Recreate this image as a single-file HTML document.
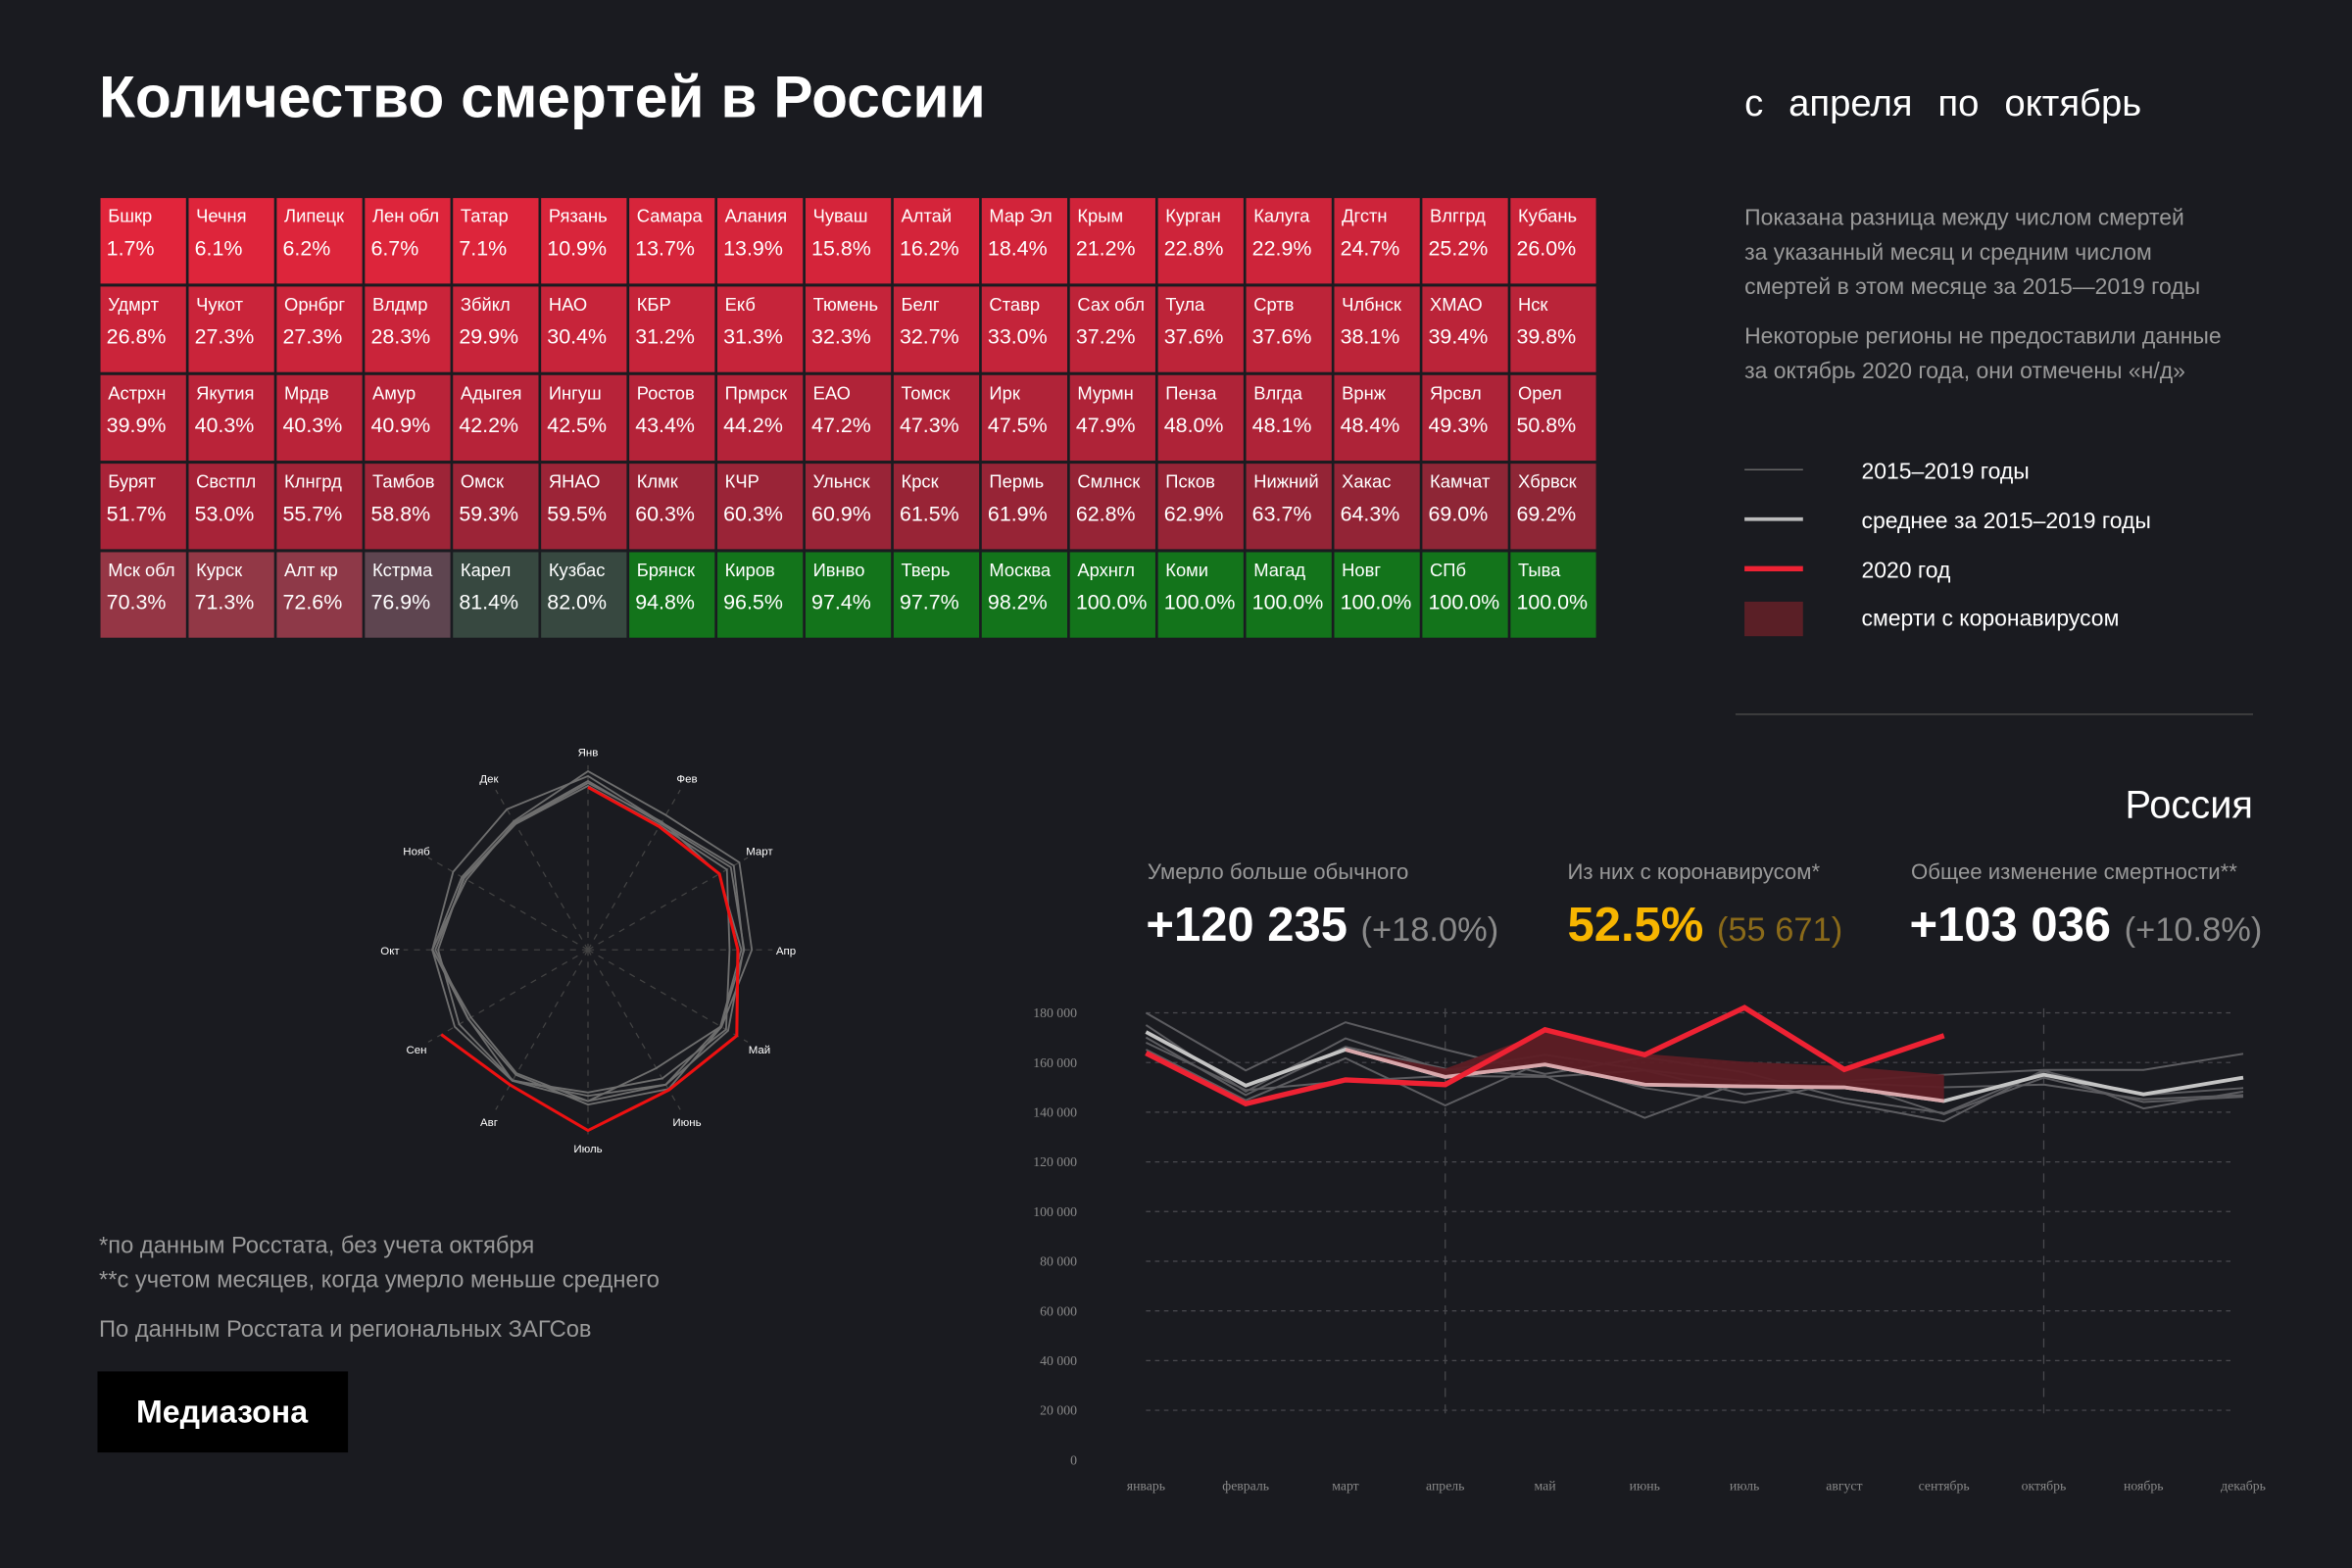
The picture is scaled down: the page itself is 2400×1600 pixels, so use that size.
<!DOCTYPE html>
<html><head><meta charset="utf-8">
<style>
html,body{margin:0;padding:0;background:#1a1b20;}
svg{display:block;}
text{font-family:"Liberation Sans","DejaVu Sans",sans-serif;}
text.serif{font-family:"Liberation Serif","DejaVu Serif",serif;}
</style></head>
<body>
<svg id="root" width="2400" height="1600" viewBox="0 0 1568 1045" preserveAspectRatio="none" xmlns="http://www.w3.org/2000/svg">
<rect x="0" y="0" width="1568" height="1045" fill="#1a1b20"/>
<text x="66" y="78" font-size="39.5" font-weight="bold" fill="#fff">Количество смертей в России</text>
<text x="1163" y="77" font-size="25" fill="#fff" word-spacing="10">с апреля по октябрь</text>
<g fill="#9a9a9a" font-size="15">
<text x="1163" y="150">Показана разница между числом смертей</text>
<text x="1163" y="173">за указанный месяц и средним числом</text>
<text x="1163" y="196">смертей в этом месяце за 2015—2019 годы</text>
<text x="1163" y="229">Некоторые регионы не предоставили данные</text>
<text x="1163" y="252">за октябрь 2020 года, они отмечены «н/д»</text>
</g>
<g>
<line x1="1163" y1="313" x2="1202" y2="313" stroke="#666" stroke-width="1"/>
<text x="1241" y="319" font-size="15" fill="#fff">2015–2019 годы</text>
<line x1="1163" y1="346" x2="1202" y2="346" stroke="#bbb" stroke-width="2.5"/>
<text x="1241" y="352" font-size="15" fill="#fff">среднее за 2015–2019 годы</text>
<line x1="1163" y1="379" x2="1202" y2="379" stroke="#ee2233" stroke-width="3.5"/>
<text x="1241" y="385" font-size="15" fill="#fff">2020 год</text>
<rect x="1163" y="401" width="39" height="23" fill="#5a1f26"/>
<text x="1241" y="417" font-size="15" fill="#fff">смерти с коронавирусом</text>
</g>
<line x1="1157" y1="476" x2="1502" y2="476" stroke="#444" stroke-width="1"/>
<text x="1502" y="545" font-size="26" fill="#fff" text-anchor="end">Россия</text>
<g>
<text x="765" y="586" font-size="14.5" fill="#999">Умерло больше обычного</text>
<text x="764" y="627" font-size="32" font-weight="bold" fill="#fff">+120 235 <tspan font-size="22.5" font-weight="normal" fill="#8a8a8a">(+18.0%)</tspan></text>
<text x="1045" y="586" font-size="14.5" fill="#999">Из них с коронавирусом*</text>
<text x="1045" y="627" font-size="32" font-weight="bold" fill="#f7b500">52.5% <tspan font-size="22.5" font-weight="normal" fill="#8a6a1a">(55 671)</tspan></text>
<text x="1274" y="586" font-size="14.5" fill="#999">Общее изменение смертности**</text>
<text x="1273" y="627" font-size="32" font-weight="bold" fill="#fff">+103 036 <tspan font-size="22.5" font-weight="normal" fill="#8a8a8a">(+10.8%)</tspan></text>
</g>
<g fill="#9a9a9a" font-size="15.5">
<text x="66" y="835">*по данным Росстата, без учета октября</text>
<text x="66" y="858">**с учетом месяцев, когда умерло меньше среднего</text>
<text x="66" y="891">По данным Росстата и региональных ЗАГСов</text>
</g>
<rect x="65" y="914" width="167" height="54" fill="#000"/>
<text x="148" y="948" font-size="21" font-weight="bold" fill="#fff" text-anchor="middle">Медиазона</text>
<g id="heat"></g>
<g id="radar"></g>
<g id="lines"></g>
</svg>
<script>
const NS="http://www.w3.org/2000/svg";
// ---- heatmap data ----
const regionNames=["Бшкр","Чечня","Липецк","Лен обл","Татар","Рязань","Самара","Алания","Чуваш","Алтай","Мар Эл","Крым","Курган","Калуга","Дгстн","Влггрд","Кубань",
"Удмрт","Чукот","Орнбрг","Влдмр","Збйкл","НАО","КБР","Екб","Тюмень","Белг","Ставр","Сах обл","Тула","Сртв","Члбнск","ХМАО","Нск",
"Астрхн","Якутия","Мрдв","Амур","Адыгея","Ингуш","Ростов","Прмрск","ЕАО","Томск","Ирк","Мурмн","Пенза","Влгда","Врнж","Ярсвл","Орел",
"Бурят","Свстпл","Клнгрд","Тамбов","Омск","ЯНАО","Клмк","КЧР","Ульнск","Крск","Пермь","Смлнск","Псков","Нижний","Хакас","Камчат","Хбрвск",
"Мск обл","Курск","Алт кр","Кстрма","Карел","Кузбас","Брянск","Киров","Ивнво","Тверь","Москва","Архнгл","Коми","Магад","Новг","СПб","Тыва"];
const regionValues=[1.7,6.1,6.2,6.7,7.1,10.9,13.7,13.9,15.8,16.2,18.4,21.2,22.8,22.9,24.7,25.2,26.0,
26.8,27.3,27.3,28.3,29.9,30.4,31.2,31.3,32.3,32.7,33.0,37.2,37.6,37.6,38.1,39.4,39.8,
39.9,40.3,40.3,40.9,42.2,42.5,43.4,44.2,47.2,47.3,47.5,47.9,48.0,48.1,48.4,49.3,50.8,
51.7,53.0,55.7,58.8,59.3,59.5,60.3,60.3,60.9,61.5,61.9,62.8,62.9,63.7,64.3,69.0,69.2,
70.3,71.3,72.6,76.9,81.4,82.0,94.8,96.5,97.4,97.7,98.2,100,100,100,100,100,100];
const colorStops=[[0,[227,37,59]],[30,[200,36,58]],[50,[172,35,56]],[65,[146,36,54]],[69.5,[142,38,54]],[70,[150,54,69]],[73,[141,58,72]],[77,[93,69,80]],[81,[55,72,64]],[90,[55,72,64]],[94,[19,116,27]],[100,[19,116,27]]];
function heatColor(v){for(let i=0;i<colorStops.length-1;i++){const a=colorStops[i],b=colorStops[i+1];if(v<=b[0]){const t=(v-a[0])/(b[0]-a[0]);return 'rgb('+a[1].map((c,k)=>Math.round(c+(b[1][k]-c)*t)).join(',')+')';}}return 'rgb(19,116,27)';}
function mk(tag,attrs,parent){const e=document.createElementNS(NS,tag);for(const k in attrs)e.setAttribute(k,attrs[k]);parent.appendChild(e);return e;}
const heat=document.getElementById('heat');
regionNames.forEach((n,i)=>{
  const c=i%17,r=Math.floor(i/17),x=67+c*58.75,y=132+r*59;
  const v=regionValues[i];
  const g=mk('g',{},heat);
  
  
  mk('rect',{x:x,y:y,width:57,height:57,fill:heatColor(v)},g);
  const t1=mk('text',{x:x+5,y:y+16,'font-size':12,fill:'#fff'},g);t1.textContent=n;
  
  
  const t2=mk('text',{x:x+4,y:y+38,'font-size':14,fill:'#fff'},g);t2.textContent=(v===100?'100.0':v.toFixed(1))+'%';
  
  
});
// ---- line chart data ----
const months=["январь","февраль","март","апрель","май","июнь","июль","август","сентябрь","октябрь","ноябрь","декабрь"];
const radarMonths=["Янв","Фев","Март","Апр","Май","Июнь","Июль","Авг","Сен","Окт","Нояб","Дек"];
const yTicks=[0,20000,40000,60000,80000,100000,120000,140000,160000,180000];
const yTickLabels=["0","20 000","40 000","60 000","80 000","100 000","120 000","140 000","160 000","180 000"];
const year2015=[180000,156800,176200,165200,155400,162100,156000,145500,139600,156500,146900,149700];
const year2016=[175100,148300,169700,156800,163100,157000,152500,152500,155100,157000,157000,163500];
const year2017=[170100,146900,166300,157500,154600,137700,152500,143800,136300,157000,141500,148300];
const year2018=[165200,144800,161700,142700,160700,149700,143800,152300,139200,153900,144100,146200];
const year2019=[168000,148900,152500,154600,154200,156800,147200,151800,150000,151100,145200,146900];
const average=[172300,150700,165200,154200,159200,151100,150400,150000,144500,155100,147200,153900];
const y2020=[163800,143400,153000,151100,173200,163100,182100,157200,170800];
const covidTop=[null,null,165200,157500,172300,163500,160300,158500,155100];
const years=[year2015,year2016,year2017,year2018,year2019];
const X0=764,XS=66.5,Y0=973,YMAX=180000,YH=298;
const xs=i=>X0+i*XS, ys=v=>Y0-v/YMAX*YH;
const lc=document.getElementById('lines');
yTicks.forEach((t,i)=>{
  if(t>0){const gl=mk('line',{x1:764,x2:1490,y1:ys(t),y2:ys(t),stroke:'#4a4a4f','stroke-width':0.8,'stroke-dasharray':'3,3'},lc);
  
  }
  const tl=mk('text',{x:718,y:ys(t)+3,'font-size':9,fill:'#888','text-anchor':'end','class':'serif'},lc);tl.textContent=yTickLabels[i];
  
  
});
[3,9].forEach(i=>{const vl=mk('line',{x1:xs(i),x2:xs(i),y1:672,y2:945,stroke:'#4a4a4f','stroke-width':0.8,'stroke-dasharray':'6,5'},lc);
  
  });
months.forEach((m,i)=>{const t=mk('text',{x:xs(i),y:993,'font-size':9,fill:'#888','text-anchor':'middle','class':'serif'},lc);t.textContent=m;
  
  });
const pts=arr=>arr.map((v,i)=>v==null?null:xs(i)+','+ys(v)).filter(p=>p).join(' ');
years.forEach(a=>{const p=mk('polyline',{points:pts(a),fill:'none',stroke:'#5c5c60','stroke-width':1.3},lc);
  
  });
const avgL=mk('polyline',{points:pts(average),fill:'none',stroke:'#c4c4c4','stroke-width':2.5},lc);


const areaTop=[],areaBot=[];
for(let i=2;i<=8;i++){areaTop.push(xs(i)+','+ys(covidTop[i]));areaBot.unshift(xs(i)+','+ys(average[i]));}
const area=mk('polygon',{points:areaTop.concat(areaBot).join(' '),fill:'#5e1d25','fill-opacity':0.95},lc);


const avgSeg=average.slice(0,9).map((v,i)=>i>=2?xs(i)+','+ys(v):null).filter(p=>p).join(' ');
const avgP=mk('polyline',{points:avgSeg,fill:'none',stroke:'#d9a7ab','stroke-width':2.5},lc);


const redL=mk('polyline',{points:pts(y2020),fill:'none',stroke:'#ee2233','stroke-width':3.5},lc);


// ---- radar ----
const rd=document.getElementById('radar');
const CX=392,CY=633,RMAX=186000,RR=123;
const ang=i=>(i*30-90)*Math.PI/180;
const rp=(v,i)=>{const r=v/RMAX*RR;return [CX+r*Math.cos(ang(i)),CY+r*Math.sin(ang(i))];};
radarMonths.forEach((m,i)=>{
  const a=ang(i);
  const sp=mk('line',{x1:CX,y1:CY,x2:CX+RR*Math.cos(a),y2:CY+RR*Math.sin(a),stroke:'#444','stroke-width':0.8,'stroke-dasharray':'4,4'},rd);
  
  
  const t=mk('text',{x:CX+132*Math.cos(a),y:CY+132*Math.sin(a)+3,'font-size':7.5,fill:'#fff','text-anchor':'middle'},rd);t.textContent=m;
  
  
});
years.forEach(a=>{const p=mk('polygon',{points:a.map((v,i)=>rp(v,i).join(',')).join(' '),fill:'none',stroke:'#6e6e6e','stroke-width':1.2},rd);
  
  });
const rr=mk('polyline',{points:y2020.map((v,i)=>rp(v,i).join(',')).join(' '),fill:'none',stroke:'#ee1111','stroke-width':2},rd);


</script>
</body></html>
